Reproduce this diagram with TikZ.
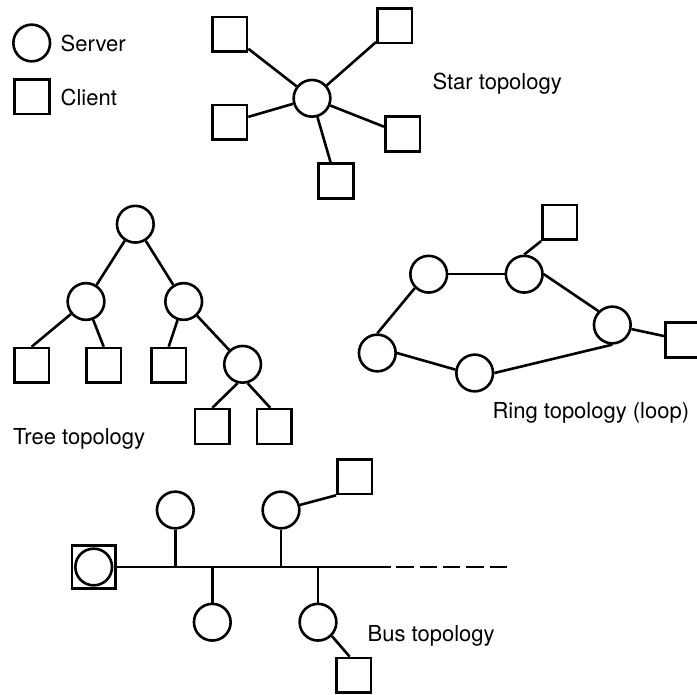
\documentclass[tikz,border=0pt]{standalone}
\usepackage{fontspec}
\setmainfont{TeX Gyre Heros}
\begin{document}
\begin{tikzpicture}[x=1pt,y=-1pt,
  server/.style={circle,draw,line width=2.6pt,minimum size=36.7pt,inner sep=0pt},
  client/.style={rectangle,draw,line width=2.6pt,minimum size=34.6pt,inner sep=0pt},
  link/.style={draw,line width=2.6pt},
  tlabel/.style={anchor=base west,inner sep=0pt,font=\fontsize{22}{26}\selectfont}]
\useasboundingbox (0,0) rectangle (697,695);

% legend
\node[server] (lgS) at (31.7,43) {};
\node[client] (lgC) at (32,96.7) {};
\node[tlabel] (lgSt) at (60.5,51.5) {Server};
\node[tlabel] (lgCt) at (60.5,105.7) {Client};

% star topology
\node[server] (st0) at (312,98.3) {};
\node[client] (st1) at (229.7,34.3) {};
\node[client] (st2) at (229.7,122.3) {};
\node[client] (st3) at (336,181) {};
\node[client] (st4) at (394.7,25.7) {};
\node[client] (st5) at (402.5,134) {};
\foreach \n in {st1,st2,st3,st4,st5} \draw[link] (st0) -- (\n);
\node[tlabel] (stT) at (432.3,89.3) {Star topology};

% tree topology
\node[server] (tr0) at (135.3,224.2) {};
\node[server] (tr1) at (86,301.5) {};
\node[server] (tr2) at (183.7,301.5) {};
\node[client] (tr3) at (31.7,365.3) {};
\node[client] (tr4) at (103.7,365.3) {};
\node[client] (tr5) at (168.7,365.3) {};
\node[server] (tr6) at (242.6,364.3) {};
\node[client] (tr7) at (212.2,426.5) {};
\node[client] (tr8) at (274.3,426.5) {};
\draw[link] (tr0) -- (tr1);
\draw[link] (tr0) -- (tr2);
\draw[link] (tr1) -- (tr3.north);
\draw[link] (tr1) -- (tr4.north);
\draw[link] (tr2) -- (tr5.north);
\draw[link] (tr2) -- (tr6);
\draw[link] (tr6.255) -- (tr7.north);
\draw[link] (tr6.285) -- ([xshift=-4pt]tr8.north);
\node[tlabel] (trT) at (12.8,444) {Tree topology};

% ring topology
\node[server] (rgA) at (428.7,274.2) {};
\node[server] (rgB) at (524.2,274.2) {};
\node[server] (rgC) at (612.3,325) {};
\node[server] (rgD) at (377.3,353) {};
\node[server] (rgE) at (474.7,373) {};
\node[client] (rgS1) at (559.7,222.5) {};
\node[client] (rgS2) at (682.5,340) {};
\draw[link] (rgA) -- (rgB);
\draw[link] (rgB.east) -- (rgC.north west);
\draw[link] (rgE.east) -- (rgC.south);
\draw[link] (rgD.east) -- (rgE.170);
\draw[link] (rgD.north) -- (rgA.south west);
\draw[link] (rgB.north) -- (rgS1.south west);
\draw[link] (rgC) -- (rgS2);
\node[tlabel] (rgT) at (492.3,418) {Ring topology (loop)};

% bus topology
\node[client,minimum size=43.4pt] (bsH) at (93.7,567) {};
\node[server] (bsH0) at (93.7,567) {};
\coordinate (busA) at (373,567);
\coordinate (busB) at (507.3,567);
\draw[link] (bsH) -- (busA);
\draw[link,dash pattern=on 17.5pt off 5.8pt] (busA) -- (busB);
\node[server] (bs1) at (175.3,510) {};
\node[server] (bs2) at (281,510) {};
\node[server] (bs3) at (212.3,622.2) {};
\node[server] (bs4) at (318,622.2) {};
\node[client] (bsS2) at (354.7,476.7) {};
\node[client] (bsS4) at (353.7,675.3) {};
\foreach \n in {bs1,bs2,bs3,bs4} \draw[link] (\n) -- (\n |- busA);
\draw[link] (bs2) -- (bsS2.south west);
\draw[link] (bs4.-45) -- ([xshift=-4pt]bsS4.north);
\node[tlabel] (bsT) at (367.5,641) {Bus topology};
\end{tikzpicture}
\end{document}
